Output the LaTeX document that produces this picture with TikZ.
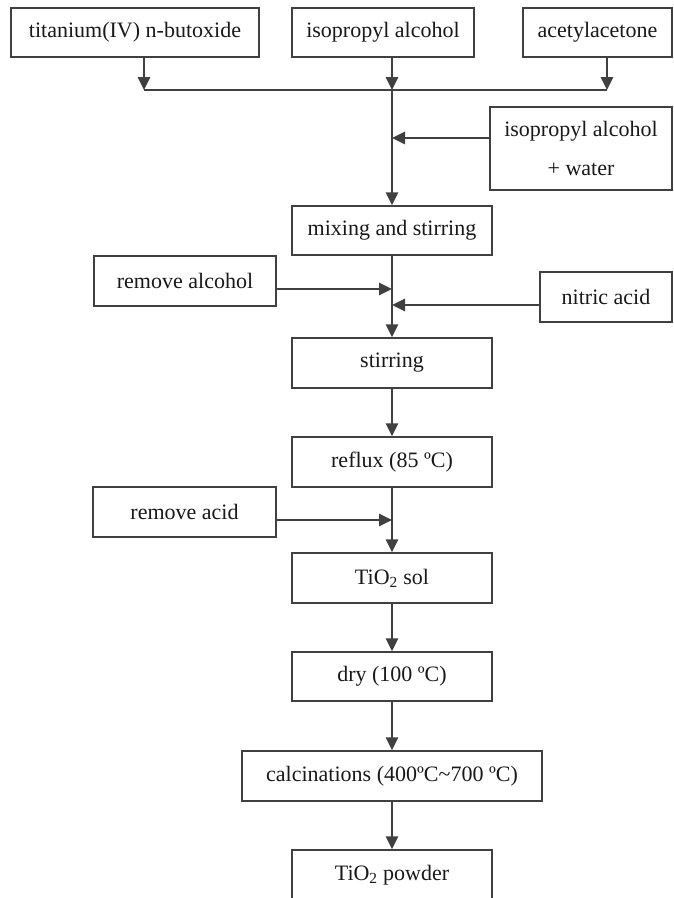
\documentclass[tikz,border=0pt]{standalone}
\usepackage{fontspec}
\setmainfont{Liberation Serif}
\usetikzlibrary{arrows.meta}
\begin{document}
\begin{tikzpicture}[x=1pt,y=-1pt,
  box/.style={draw=black!75, line width=1.5pt, minimum height=49pt, minimum width=200pt, inner sep=0pt,
    font=\fontsize{22}{27}\selectfont, text=black!90},
  arr/.style={draw=black!75, line width=1.6pt, -{Triangle[length=13pt,width=12.5pt]}},
  ln/.style={draw=black!75, line width=1.6pt}]
\useasboundingbox (0,0) rectangle (673,898);
\fill[white] (0,0) rectangle (673,898);
\clip (0,0) rectangle (673,898);
% boxes
\node[box, minimum width=248pt] (ti) at (135,32.5) {titanium(IV) n-butoxide};
\node[box, minimum width=182pt] (ipa) at (383,32.5) {isopropyl alcohol};
\node[box, minimum width=149pt] (acac) at (597.5,32.5) {acetylacetone};
\node[box, minimum width=182pt, minimum height=83pt, align=center] (water) at (581,148.5) {isopropyl alcohol\\[12pt]+ water};
\node[box] (mix) at (392,230.5) {mixing and stirring};
\node[box, minimum width=182pt, minimum height=50pt] (ralc) at (185,281) {remove alcohol};
\node[box, minimum width=132pt, minimum height=50pt] (nit) at (606,297) {nitric acid};
\node[box, minimum height=50pt] (stir) at (392,363) {stirring};
\node[box, minimum height=50pt] (reflux) at (392,462) {reflux (85 ºC)};
\node[box, minimum width=183pt, minimum height=50pt] (racid) at (184.5,512) {remove acid};
\node[box, minimum height=50pt] (sol) at (392,578) {TiO\textsubscript{2} sol};
\node[box] (dry) at (392,676.5) {dry (100 ºC)};
\node[box, minimum width=300pt, minimum height=50pt] (calc) at (392,776) {calcinations (400ºC\textasciitilde700 ºC)};
\node[box, minimum height=50pt] (powder) at (392,875) {TiO\textsubscript{2} powder};
% junction
\coordinate (jl) at (144,90);
\coordinate (jm) at (392,90);
\coordinate (jr) at (607,90);
\draw[arr] (ti.south -| jl) -- (jl);
\draw[arr] (ipa.south -| jm) -- (jm);
\draw[arr] (acac.south -| jr) -- (jr);
\draw[ln] (jl) -- (jr);
\draw[arr] (jm) -- (mix.north);
\draw[arr] ([yshift=10.5pt]water.west) -- ([yshift=10.5pt]water.west -| jm);
% middle
\draw[arr] (mix.south) -- (stir.north);
\draw[arr] ([yshift=-8pt]ralc.east) -- ([yshift=-8pt]ralc.east -| mix.south);
\draw[arr] ([yshift=-8pt]nit.west) -- ([yshift=-8pt]nit.west -| mix.south);
\draw[arr] (stir.south) -- (reflux.north);
\draw[arr] (reflux.south) -- (sol.north);
\draw[arr] ([yshift=-8pt]racid.east) -- ([yshift=-8pt]racid.east -| reflux.south);
\draw[arr] (sol.south) -- (dry.north);
\draw[arr] (dry.south) -- (calc.north);
\draw[arr] (calc.south) -- (powder.north);
\end{tikzpicture}
\end{document}
